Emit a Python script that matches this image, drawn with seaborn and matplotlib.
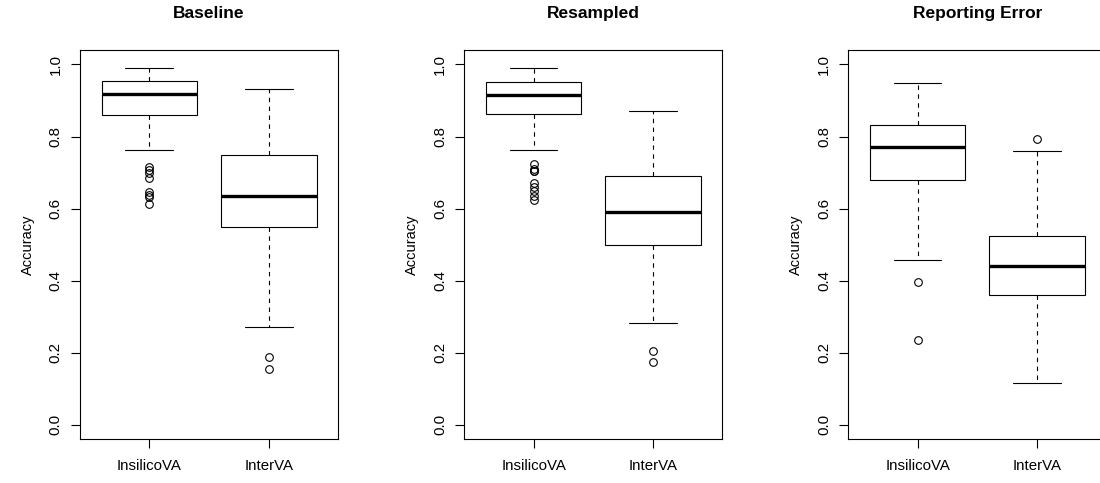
import numpy as np
import pandas as pd
import matplotlib
matplotlib.use("Agg")
import matplotlib.pyplot as plt
import seaborn as sns

# ---- data ----
panels = ["Baseline", "Resampled", "Reporting Error"]
methods = ["InsilicoVA", "InterVA"]

# five-number summaries: [lower whisker, Q1, median, Q3, upper whisker]
baseline_insilico = [0.763, 0.860, 0.919, 0.953, 0.990]
baseline_interva = [0.272, 0.549, 0.636, 0.748, 0.933]
resampled_insilico = [0.762, 0.863, 0.916, 0.952, 0.990]
resampled_interva = [0.283, 0.498, 0.590, 0.691, 0.872]
reporting_insilico = [0.457, 0.680, 0.770, 0.832, 0.949]
reporting_interva = [0.115, 0.359, 0.440, 0.524, 0.760]

# outliers
baseline_insilico_out = [0.716, 0.708, 0.700, 0.686, 0.646, 0.639, 0.631, 0.613]
baseline_interva_out = [0.189, 0.156]
resampled_insilico_out = [0.725, 0.711, 0.705, 0.703, 0.672, 0.660, 0.648, 0.636, 0.623]
resampled_interva_out = [0.206, 0.174]
reporting_insilico_out = [0.395, 0.235]
reporting_interva_out = [0.792]

summaries = {
    "Baseline": (baseline_insilico, baseline_interva,
                 baseline_insilico_out, baseline_interva_out),
    "Resampled": (resampled_insilico, resampled_interva,
                  resampled_insilico_out, resampled_interva_out),
    "Reporting Error": (reporting_insilico, reporting_interva,
                        reporting_insilico_out, reporting_interva_out),
}


def sample_from_summary(stats, outliers, m=40):
    lo, q1, med, q3, hi = stats
    return list(outliers) + [lo] + [q1] * m + [med] * m + [q3] * m + [hi]


rows = []
for p in panels:
    s_ins, s_int, o_ins, o_int = summaries[p]
    for v in sample_from_summary(s_ins, o_ins):
        rows.append((p, methods[0], v))
    for v in sample_from_summary(s_int, o_int):
        rows.append((p, methods[1], v))
df = pd.DataFrame(rows, columns=["panel", "method", "accuracy"])

# ---- style ----
sns.set_style("white")
plt.rcParams["font.family"] = ["Liberation Sans", "DejaVu Sans"]
plt.rcParams["text.color"] = "black"
plt.rcParams["axes.labelcolor"] = "black"
plt.rcParams["xtick.color"] = "black"
plt.rcParams["ytick.color"] = "black"

fig = plt.figure(figsize=(11, 4.83), dpi=100)
W, H = 1100, 483
lefts = [80, 464.3, 848.3]
ax_w = 258
top, bottom = 50, 439.3

for i, p in enumerate(panels):
    ax = fig.add_axes([lefts[i] / W, 1 - bottom / H, ax_w / W, (bottom - top) / H])
    sub = df[df["panel"] == p]
    sns.boxplot(
        data=sub, x="method", y="accuracy", order=methods, ax=ax,
        color="white", linecolor="black", linewidth=0.8, width=0.8,
        whis=1.5,
        whiskerprops=dict(linestyle=(0, (4, 4)), linewidth=0.8, color="black"),
        capprops=dict(linewidth=0.8, color="black"),
        medianprops=dict(linewidth=2.4, color="black"),
        boxprops=dict(linewidth=0.8, edgecolor="black", facecolor="white"),
        flierprops=dict(marker="o", markerfacecolor="none", markeredgecolor="black",
                        markersize=5.5, markeredgewidth=0.8, linestyle="none"),
    )
    # widen the caps to half the box width (R default staplewex)
    for line in ax.lines:
        xd = np.asarray(line.get_xdata(), dtype=float)
        yd = np.asarray(line.get_ydata(), dtype=float)
        if len(xd) == 2 and yd[0] == yd[1] and xd[0] != xd[1]:
            c = xd.mean()
            half = abs(xd[1] - xd[0]) / 2
            if half < 0.35:  # caps only, not medians
                line.set_xdata([c - 0.2, c + 0.2])

    ax.set_xlim(-0.58, 1.58)
    ax.set_ylim(-0.04, 1.04)
    ax.set_yticks([0.0, 0.2, 0.4, 0.6, 0.8, 1.0])
    ax.set_yticklabels(["0.0", "0.2", "0.4", "0.6", "0.8", "1.0"])
    ax.set_xlabel("")
    ax.set_ylabel("Accuracy", fontsize=10.5, labelpad=10, color="black")
    ax.set_title(p, fontsize=12.5, fontweight="bold", pad=23, color="black")
    ax.tick_params(axis="both", which="both", direction="out", length=6.5, width=0.8,
                   color="black", labelsize=10.8, labelcolor="black")
    ax.tick_params(axis="x", pad=8)
    ax.tick_params(axis="y", pad=6, labelrotation=90)
    for lab in ax.get_yticklabels():
        lab.set_va("center")
    ax.tick_params(left=True, bottom=True)
    for sp in ax.spines.values():
        sp.set_visible(True)
        sp.set_color("black")
        sp.set_linewidth(0.8)

fig.savefig("out.png", dpi=100)
